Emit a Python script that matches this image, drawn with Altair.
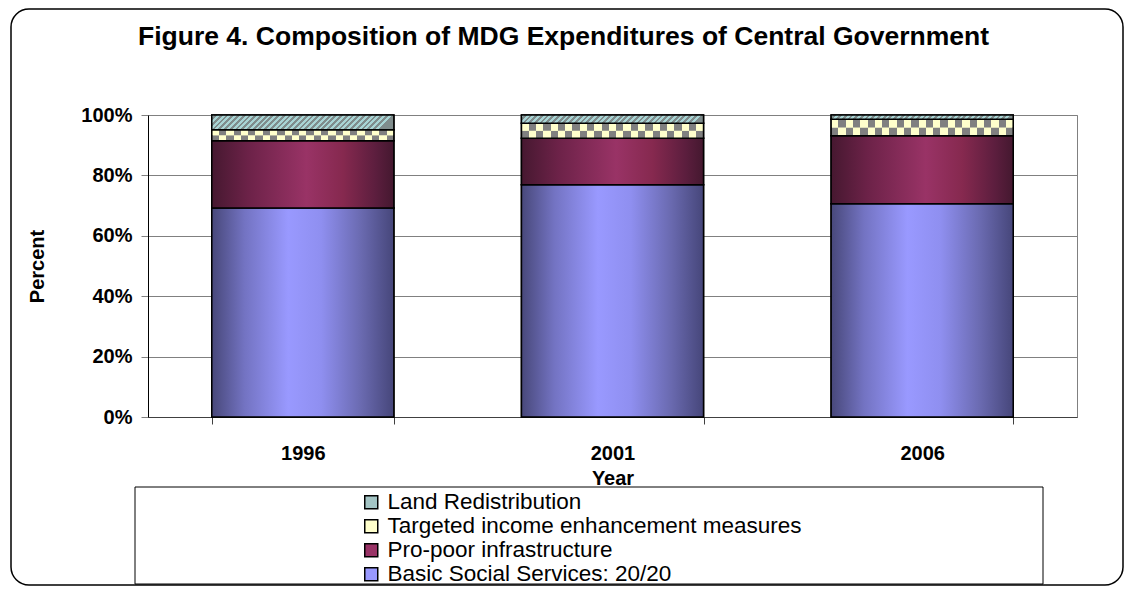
import altair as alt
import pandas as pd

# ---- data ----
years = ["1996", "2001", "2006"]
series_names = [
    "Land Redistribution",
    "Targeted income enhancement measures",
    "Pro-poor infrastructure",
    "Basic Social Services: 20/20",
]
basic_social = [69.2, 76.9, 70.6]
pro_poor = [22.3, 15.4, 22.5]
targeted_income = [3.6, 5.0, 5.5]
land_redistribution = [4.9, 2.7, 1.4]

title_text = "Figure 4. Composition of MDG Expenditures of Central Government"
FONT = "Liberation Sans"

# stacking order (bottom first)
stack_order = {
    "Basic Social Services: 20/20": 0,
    "Pro-poor infrastructure": 1,
    "Targeted income enhancement measures": 2,
    "Land Redistribution": 3,
}
values_by_series = {
    "Basic Social Services: 20/20": basic_social,
    "Pro-poor infrastructure": pro_poor,
    "Targeted income enhancement measures": targeted_income,
    "Land Redistribution": land_redistribution,
}
rows = []
for s, vals in values_by_series.items():
    for y, v in zip(years, vals):
        rows.append({"year": y, "series": s, "value": v, "order": stack_order[s]})
df = pd.DataFrame(rows)

flat_colors = ["#a3c4c4", "#ffffcc", "#993366", "#9999ff"]

# ---- gradient helpers ----
def shade(stops):
    return {"gradient": "linear", "x1": 0, "y1": 0, "x2": 1, "y2": 0,
            "stops": [{"offset": o, "color": c} for o, c in stops]}

def stripes(c1, c2, n_segments, y2=0.0):
    st = []
    for k in range(n_segments):
        c = c1 if k % 2 == 0 else c2
        a, b = k / n_segments, (k + 1) / n_segments
        st.append({"offset": a, "color": c})
        st.append({"offset": b, "color": c})
    return {"gradient": "linear", "x1": 0, "y1": 0, "x2": 1, "y2": y2, "stops": st}

basic_fill = shade([(0, "#48487a"), (0.18, "#7373c2"), (0.42, "#9999ff"),
                    (0.6, "#8f8ff0"), (0.82, "#6a6ab0"), (1, "#46467a")])
pro_fill = shade([(0, "#461830"), (0.2, "#6c2248"), (0.52, "#993366"),
                  (0.72, "#86294f"), (0.9, "#5c1e3e"), (1, "#44182f")])

W, H = 929, 302
PX_PER_UNIT = H  # normalized stack 0..1
BAR_W = 182

base = alt.Chart(df).transform_stack(
    stack="value", groupby=["year"], as_=["y0", "y1"],
    sort=[alt.SortField("order", order="ascending")], offset="normalize"
).transform_calculate(ym="(datum.y0 + datum.y1) / 2")

x_enc = alt.X("year:N", title="Year", sort=years,
              scale=alt.Scale(paddingInner=0.412, paddingOuter=0.206),
              axis=alt.Axis(labelAngle=0, tickBand="extent", tickSize=7,
                            tickColor="#404040", domainColor="#404040",
                            labelFont=FONT, labelFontSize=20, labelFontWeight="bold",
                            labelColor="black", labelPadding=19,
                            titleFont=FONT, titleFontSize=20, titleFontWeight="bold",
                            titleColor="black", titlePadding=5, grid=False))
y_scale = alt.Scale(domain=[0, 1], nice=False)
y_enc = alt.Y("y0:Q", scale=y_scale, title="Percent",
              axis=alt.Axis(format=".0%", values=[0, 0.2, 0.4, 0.6, 0.8, 1.0],
                            tickSize=7, tickColor="#808080", domainColor="black",
                            gridColor="#808080", gridWidth=1,
                            labelFont=FONT, labelFontSize=20, labelFontWeight="bold",
                            labelColor="black", labelPadding=9,
                            titleFont=FONT, titleFontSize=20, titleFontWeight="bold",
                            titleColor="black", titlePadding=33))

bars = base.mark_bar(stroke="black", strokeWidth=1.5).encode(
    x=x_enc, y=y_enc, y2="y1:Q",
    color=alt.Color("series:N", scale=alt.Scale(domain=series_names, range=flat_colors),
                    legend=alt.Legend(title=None, orient="none", legendX=212, legendY=376,
                                      padding=0, labelFont=FONT, labelFontSize=22.5,
                                      labelColor="black", labelOffset=5,
                                      symbolType="square", symbolSize=169,
                                      symbolStrokeColor="black", symbolStrokeWidth=1.5,
                                      symbolOpacity=1, rowPadding=1, labelLimit=700)),
)

layers = [bars]
layers.append(base.mark_bar(fill=basic_fill, stroke="black", strokeWidth=1.5)
              .encode(x=alt.X("year:N", sort=years), y=alt.Y("y0:Q", scale=y_scale), y2="y1:Q")
              .transform_filter(alt.datum.series == "Basic Social Services: 20/20"))
layers.append(base.mark_bar(fill=pro_fill, stroke="black", strokeWidth=1.5)
              .encode(x=alt.X("year:N", sort=years), y=alt.Y("y0:Q", scale=y_scale), y2="y1:Q")
              .transform_filter(alt.datum.series == "Pro-poor infrastructure"))
# checker: two rows of offset stripes
layers.append(base.mark_bar(fill=stripes("#808080", "#ffffcc", 25))
              .encode(x=alt.X("year:N", sort=years), y=alt.Y("y0:Q", scale=y_scale), y2="ym:Q")
              .transform_filter(alt.datum.series == "Targeted income enhancement measures"))
layers.append(base.mark_bar(fill=stripes("#ffffcc", "#808080", 25))
              .encode(x=alt.X("year:N", sort=years), y=alt.Y("ym:Q", scale=y_scale), y2="y1:Q")
              .transform_filter(alt.datum.series == "Targeted income enhancement measures"))
layers.append(base.mark_bar(fillOpacity=0, stroke="black", strokeWidth=1.5)
              .encode(x=alt.X("year:N", sort=years), y=alt.Y("y0:Q", scale=y_scale), y2="y1:Q")
              .transform_filter(alt.datum.series == "Targeted income enhancement measures"))
# diagonal hatch for land redistribution, one gradient per bar (45 degree stripes)
for yr, v in zip(years, land_redistribution):
    ratio = (v / 100.0) * PX_PER_UNIT / BAR_W
    layers.append(base.mark_bar(fill=stripes("#a8d4d4", "#7f8c8c", 64, ratio),
                                stroke="black", strokeWidth=1.5)
                  .encode(x=alt.X("year:N", sort=years), y=alt.Y("y0:Q", scale=y_scale), y2="y1:Q")
                  .transform_filter((alt.datum.series == "Land Redistribution") & (alt.datum.year == yr)))

# decorative frames: outer rounded border and legend box
one = alt.Data(values=[{"k": 1}])
border = alt.Chart(one).mark_rect(fillOpacity=0, stroke="black", strokeWidth=1.5,
                                  cornerRadius=18).encode(
    x=alt.value(-137), x2=alt.value(975), y=alt.value(-106), y2=alt.value(470))
legend_box = alt.Chart(one).mark_rect(fillOpacity=0, stroke="black", strokeWidth=1).encode(
    x=alt.value(-13), x2=alt.value(895), y=alt.value(372), y2=alt.value(469))

chart = alt.layer(border, legend_box, *layers).resolve_scale(x="shared", y="shared").properties(
    width=W, height=H,
    autosize=alt.AutoSizeParams(type="none"),
    padding={"left": 140, "top": 107, "right": 48, "bottom": 169},
    background="white",
    title=alt.TitleParams(title_text, font=FONT, fontSize=26.5, fontWeight="bold",
                          color="black", anchor="middle", dx=-49, offset=-42),
).configure_view(stroke="#808080", strokeWidth=1)

chart.save("out.html", embed_options={"renderer": "svg", "actions": False})
